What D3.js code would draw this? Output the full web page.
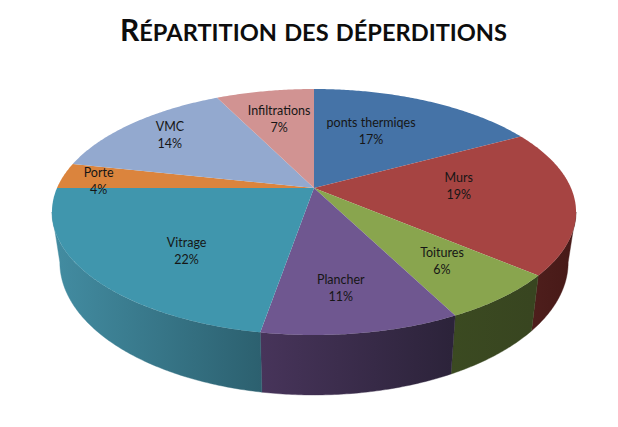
<!DOCTYPE html>
<html>
<head>
<meta charset="utf-8">
<script src="https://cdn.jsdelivr.net/npm/d3@7/dist/d3.min.js"></script>
<style>
  html, body { margin: 0; background: #fff; }
  svg { display: block; }
  text { font-family: Lato, "Open Sans", sans-serif; }
</style>
</head>
<body>
<svg class="chart" width="618" height="427"></svg>
<script>
const categories = ['ponts thermiqes', 'Murs', 'Toitures', 'Plancher', 'Vitrage', 'Porte', 'VMC', 'Infiltrations']
// printed labels, and the shares as measured from the slice edges
const percentLabels = [17, 19, 6, 11, 22, 4, 14, 7]
const values = [17.1, 19.1, 6.3, 10.2, 22.3, 3.4, 14.3, 7.3]

const topColors = ['#4573a7', '#a64442', '#89a54e', '#6f5790', '#4096ad', '#db843d', '#93a9cf', '#d19392']
const wallLight = ['#2a4566', '#4e1e1c', '#3b4a21', '#47345a', '#428ba0', '#8a5325', '#5a6880', '#805a59']
const wallDark = ['#2a4566', '#481a18', '#384520', '#2c233a', '#2c606f', '#8a5325', '#5a6880', '#805a59']

// label placement inside the slices, radius as share of the disc and angle shift
const labelRadius = [0.585, 0.566, 0.706, 0.73, 0.66, 0.85, 0.786, 0.675]
const labelShift = [-6, -8, -0.7, 1.6, -7, -2.1, 0.6, 0]

const svg = d3.select('.chart')

// perspective of the disc: far side shrinks by k
const cx = 314, cy = 188
const b = 257, a = 118.3, k = 0.1951
const depth = 48.3, baseScale = 0.97

const project = (theta, r = 1) => {
  const u = r * Math.sin(theta), v = r * Math.cos(theta)
  const w = 1 + k * v
  return [cx + b * u / w, cy - a * v / w]
}
const projectBase = theta => {
  const u = Math.sin(theta), v = Math.cos(theta)
  const w = 1 + k * v
  return [cx + baseScale * b * u / w, cy - a * v / w + depth / w]
}

const pie = d3.pie().sort(null)
const slices = pie(values)
const line = d3.line()

const sampleAngles = (from, to) => {
  const n = Math.max(2, Math.ceil((to - from) / 0.01))
  return d3.range(n + 1).map(i => from + (to - from) * i / n)
}

const defs = svg.append('defs')

// visible part of the side wall, between the two tangent points of the ellipse
const wallFrom = Math.PI / 2 + Math.asin(k)
const wallTo = 3 * Math.PI / 2 - Math.asin(k)

const walls = slices
  .map((d, i) => ({ i, from: Math.max(d.startAngle, wallFrom), to: Math.min(d.endAngle, wallTo) }))
  .filter(d => d.to > d.from)

walls.forEach(d => {
  const p0 = projectBase(d.from), p1 = projectBase(d.to)
  const grad = defs.append('linearGradient')
    .attr('id', `wall${d.i}`)
    .attr('gradientUnits', 'userSpaceOnUse')
    .attr('x1', p0[0]).attr('y1', 0)
    .attr('x2', p1[0]).attr('y2', 0)
  grad.append('stop').attr('offset', 0).attr('stop-color', wallDark[d.i])
  grad.append('stop').attr('offset', 1).attr('stop-color', wallLight[d.i])
})

svg.append('g').selectAll('path')
  .data(walls)
  .join('path')
  .attr('d', d => {
    const angles = sampleAngles(d.from, d.to)
    return line([...angles.map(t => project(t)), ...angles.reverse().map(projectBase)]) + 'Z'
  })
  .attr('fill', d => `url(#wall${d.i})`)
  .attr('stroke', d => `url(#wall${d.i})`)
  .attr('stroke-width', 0.4)

svg.append('g').selectAll('path')
  .data(slices)
  .join('path')
  .attr('d', d => line([[cx, cy], ...sampleAngles(d.startAngle, d.endAngle).map(t => project(t))]) + 'Z')
  .attr('fill', (d, i) => topColors[i])

const labels = svg.append('g').selectAll('text')
  .data(slices)
  .join('text')
  .attr('text-anchor', 'middle')
  .attr('font-size', 12.5)
  .attr('fill', '#161616')
  .attr('transform', (d, i) => {
    const mid = (d.startAngle + d.endAngle) / 2 + labelShift[i] * Math.PI / 180
    const [x, y] = project(mid, labelRadius[i])
    return `translate(${x},${y})`
  })

labels.append('tspan').attr('x', 0).attr('y', -4).text((d, i) => categories[i])
labels.append('tspan').attr('x', 0).attr('y', 13).text((d, i) => `${percentLabels[i]}%`)

const title = svg.append('text')
  .attr('x', 313.5)
  .attr('y', 41)
  .attr('text-anchor', 'middle')
  .attr('font-weight', 700)
  .attr('word-spacing', 1.5)
  .attr('fill', '#0d0d0d')
title.append('tspan').attr('font-size', 30).text('R')
title.append('tspan').attr('font-size', 23.6).text('ÉPARTITION DES DÉPERDITIONS')
</script>
</body>
</html>
